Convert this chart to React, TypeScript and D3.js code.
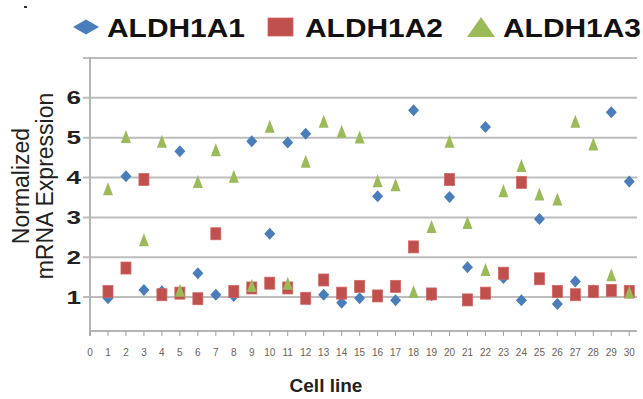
import React from 'react';
import * as d3 from 'd3';

// cell lines 1..30
const cellLines = d3.range(1, 31);
const xTicks = d3.range(0, 31);
const yTicks = [1, 2, 3, 4, 5, 6];
const yGrid = [1, 2, 3, 4, 5, 6, 7];

const aldh1a1 = [0.97, 4.03, 1.18, 1.15, 4.66, 1.6, 1.06, 1.03, 4.91, 2.59,
  4.88, 5.1, 1.06, 0.86, 0.97, 3.53, 0.92, 5.69, 1.05, 3.51,
  1.75, 5.27, 1.48, 0.92, 2.96, 0.83, 1.39, 1.17, 5.64, 3.9];
const aldh1a2 = [1.14, 1.73, 3.95, 1.06, 1.1, 0.96, 2.59, 1.14, 1.23, 1.35,
  1.23, 0.97, 1.43, 1.1, 1.27, 1.03, 1.27, 2.26, 1.08, 3.95,
  0.93, 1.1, 1.6, 3.88, 1.46, 1.14, 1.06, 1.14, 1.17, 1.14];
const aldh1a3 = [3.72, 5.03, 2.44, 4.91, 1.17, 3.9, 4.7, 4.03, 1.29, 5.29,
  1.35, 4.41, 5.41, 5.16, 5.02, 3.92, 3.82, 1.14, 2.77, 4.91,
  2.87, 1.69, 3.67, 4.3, 3.59, 3.46, 5.41, 4.84, 1.56, 1.12];

const seriesNames = ['ALDH1A1', 'ALDH1A2', 'ALDH1A3'];
const colors = ['#4a7ebb', '#c0504d', '#9bbb59'];

const W = 643;
const H = 399;
const font = '"Liberation Sans", Arial, sans-serif';

const diamond = (w: number, h: number) => `M0,${-h}L${w},0L0,${h}L${-w},0Z`;
const triangle = (w: number, h: number) => `M0,${-h / 2}L${w / 2},${h / 2}L${-w / 2},${h / 2}Z`;

function Marker({ kind, x, y, big }: { kind: number; x: number; y: number; big?: boolean }) {
  if (kind === 0) {
    return <path transform={`translate(${x},${y})`} d={big ? diamond(13, 7.5) : diamond(5.5, 6)} fill={colors[0]} />;
  }
  if (kind === 1) {
    const w = big ? 25 : 10;
    const h = big ? 18 : 12;
    return <rect x={x - w / 2} y={y - h / 2} width={w} height={h} fill={colors[1]} stroke="#d06663" strokeWidth={0.8} />;
  }
  return <path transform={`translate(${x},${y})`} d={big ? triangle(28, 20) : triangle(10, 13)} fill={colors[2]} />;
}

export default function App() {
  const x = d3.scaleLinear().domain([0, 30.43]).range([90, 637]);
  const y = d3.scaleLinear().domain([0.15, 7]).range([331, 58]);
  const all = [aldh1a1, aldh1a2, aldh1a3];

  // legend layout
  const legendMarkX = [86, 280.5, 481];
  const legendTextX = [107, 305, 503];

  return (
    <svg width={W} height={H} style={{ position: 'absolute', left: 0, top: 0, background: '#fff' }}>
      <rect x={24} y={6} width={3} height={2} fill="#333" />

      {/* gridlines + y ticks */}
      {yGrid.map(v => (
        <g key={v}>
          <line x1={83} x2={x.range()[1]} y1={y(v)} y2={y(v)} stroke="#bdbdbd" strokeWidth={2} />
        </g>
      ))}
      {yTicks.map(v => (
        <text key={v} transform={`translate(81,${y(v) + 6.5}) scale(1.45,1)`} textAnchor="end"
          fontFamily={font} fontWeight="bold" fontSize={18} fill="#222">{v}</text>
      ))}

      {/* axes */}
      <line x1={90} x2={90} y1={y(7) - 1} y2={336} stroke="#b5b5b5" strokeWidth={2} />
      <line x1={90} x2={x.range()[1]} y1={y.range()[0]} y2={y.range()[0]} stroke="#b5b5b5" strokeWidth={2} />
      {xTicks.map(t => (
        <g key={t}>
          <line x1={x(t)} x2={x(t)} y1={331} y2={336} stroke="#a0a0a0" strokeWidth={1} />
          <text x={x(t)} y={356} textAnchor="middle" fontFamily={'"Liberation Sans Narrow", ' + font}
            fontSize={10} fill="#6b6255">{t}</text>
        </g>
      ))}

      {/* points */}
      {all.map((s, k) => (
        <g key={k}>
          {s.map((v, i) => <Marker key={i} kind={k} x={x(cellLines[i])} y={y(v)} />)}
        </g>
      ))}

      {/* axis titles */}
      <text transform="translate(29,186) rotate(-90)" textAnchor="middle" fontFamily={font} fontSize={23} fill="#222">Normalized</text>
      <text transform="translate(53,186) rotate(-90)" textAnchor="middle" fontFamily={font} fontSize={23} fill="#222">mRNA Expression</text>
      <text x={326} y={392} textAnchor="middle" fontFamily={font} fontWeight="bold" fontSize={19} fill="#222">Cell line</text>

      {/* legend */}
      {seriesNames.map((n, k) => (
        <g key={n}>
          <Marker kind={k} x={legendMarkX[k]} y={27} big />
          <text x={legendTextX[k]} y={36.5} fontFamily={font} fontWeight="bold" fontSize={25} fill="#111"
            textLength={138} lengthAdjust="spacingAndGlyphs">{n}</text>
        </g>
      ))}
    </svg>
  );
}
